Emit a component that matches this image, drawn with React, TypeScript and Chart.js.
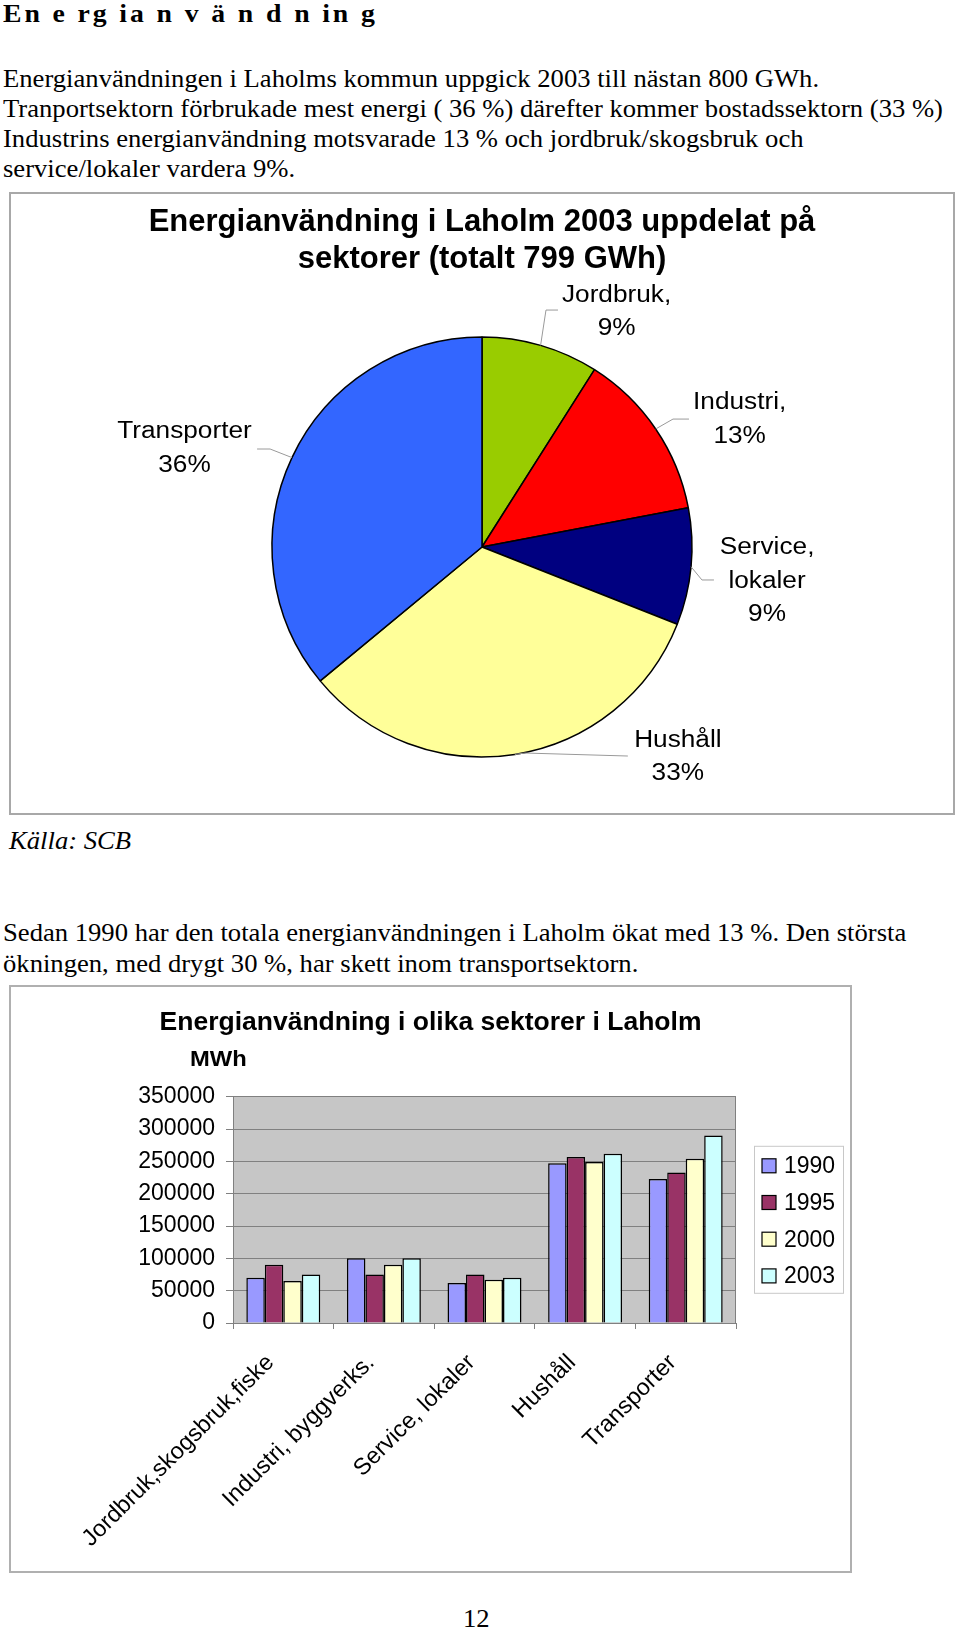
import React, { useEffect, useRef } from "react";
import { Chart, registerables } from "chart.js";

Chart.register(...registerables);

// ---------- Data ----------
const pieCategories = ["Jordbruk", "Industri", "Service, lokaler", "Hushåll", "Transporter"];
const pieLabelLines = [["Jordbruk,"], ["Industri,"], ["Service,", "lokaler"], ["Hushåll"], ["Transporter"]];
const pieShares = [9, 13, 9, 33, 36];
const pieColors = ["#99CC00", "#FF0000", "#000080", "#FFFF99", "#3366FF"];
const pieTitle = ["Energianvändning i Laholm 2003 uppdelat på", "sektorer (totalt 799 GWh)"];

const barTitle = "Energianvändning i olika sektorer i Laholm";
const barUnit = "MWh";
const barCategories = [
  "Jordbruk,skogsbruk,fiske",
  "Industri, byggverks.",
  "Service, lokaler",
  "Hushåll",
  "Transporter",
];
const years = ["1990", "1995", "2000", "2003"];
const values1990 = [70000, 100000, 62000, 247000, 223000];
const values1995 = [90000, 75000, 75000, 257000, 233000];
const values2000 = [65000, 90000, 67000, 249000, 254000];
const values2003 = [75000, 100000, 70000, 262000, 290000];
const yearColors = ["#9999FF", "#993366", "#FFFFCC", "#CCFFFF"];
const yTickValues = [0, 50000, 100000, 150000, 200000, 250000, 300000, 350000];

// ---------- Styles ----------
const SANS = '"Liberation Sans", Arial, sans-serif';
const SERIF = '"Liberation Serif", "Times New Roman", serif';

// leader line / label placement relative to the slice's mid-angle edge point
const pieLabelLayout = [
  { elbow: [5.4, -35.3], end: [17.4, -35.3], text: [76, -50] },
  { elbow: [17.3, -9.9], end: [33.3, -9.9], text: [84, -26] },
  { elbow: [10.9, 13.2], end: [22.9, 13.2], text: [76, -19] },
  { elbow: [10, -1.4], end: [113, 1.6], text: [163, -14] },
  { elbow: [-21.9, -8.6], end: [-34.9, -8.6], text: [-107.5, -25.5] },
];

const pieLabelPlugin = {
  id: "pieLabels",
  afterDraw(chart: any) {
    const ctx = chart.ctx as CanvasRenderingContext2D;
    const meta = chart.getDatasetMeta(0);
    const values = chart.data.datasets[0].data as number[];
    ctx.save();
    meta.data.forEach((arc: any, i: number) => {
      const p = arc.getProps(["x", "y", "startAngle", "endAngle", "outerRadius"], true);
      const a = (p.startAngle + p.endAngle) / 2;
      const ax = p.x + p.outerRadius * Math.cos(a);
      const ay = p.y + p.outerRadius * Math.sin(a);
      const L = pieLabelLayout[i];
      ctx.strokeStyle = "#9a9a9a";
      ctx.lineWidth = 1;
      ctx.beginPath();
      ctx.moveTo(ax, ay);
      ctx.lineTo(ax + L.elbow[0], ay + L.elbow[1]);
      ctx.lineTo(ax + L.end[0], ay + L.end[1]);
      ctx.stroke();
      const lines = [...pieLabelLines[i], values[i] + "%"];
      ctx.fillStyle = "#000";
      ctx.font = `23px ${SANS}`;
      ctx.textAlign = "center";
      ctx.textBaseline = "middle";
      lines.forEach((t, j) => {
        ctx.save();
        ctx.translate(ax + L.text[0], ay + L.text[1] + j * 33.5);
        ctx.scale(1.14, 1);
        ctx.fillText(t, 0, 0);
        ctx.restore();
      });
    });
    ctx.restore();
  },
};

const barDecorPlugin = {
  id: "barDecor",
  beforeDraw(chart: any) {
    const { ctx, chartArea: ca } = chart;
    ctx.save();
    ctx.fillStyle = "#C6C6C6";
    ctx.fillRect(ca.left, ca.top, ca.right - ca.left, ca.bottom - ca.top);
    ctx.restore();
  },
  afterDraw(chart: any) {
    const { ctx, chartArea: ca } = chart;
    ctx.save();
    // plot area right border
    ctx.strokeStyle = "#808080";
    ctx.lineWidth = 1;
    ctx.beginPath();
    ctx.moveTo(ca.right - 0.5, ca.top);
    ctx.lineTo(ca.right - 0.5, ca.bottom);
    ctx.stroke();
    // unit label
    ctx.fillStyle = "#000";
    ctx.font = `bold 22px ${SANS}`;
    ctx.textAlign = "left";
    ctx.textBaseline = "middle";
    ctx.save();
    ctx.translate(ca.left - 43, ca.top - 37);
    ctx.scale(1.08, 1);
    ctx.fillText(barUnit, 0, 0);
    ctx.restore();
    // legend
    const bx = ca.right + 18;
    const by = ca.top + 49;
    const bw = 89;
    const bh = 147;
    ctx.strokeStyle = "#c8c8c8";
    ctx.lineWidth = 1;
    ctx.strokeRect(bx + 0.5, by + 0.5, bw, bh);
    ctx.font = `23px ${SANS}`;
    chart.data.datasets.forEach((ds: any, i: number) => {
      const cy = by + 20 + i * 36.7;
      ctx.fillStyle = ds.backgroundColor;
      ctx.fillRect(bx + 8, cy - 7, 14, 14);
      ctx.strokeStyle = "#000";
      ctx.lineWidth = 1.2;
      ctx.strokeRect(bx + 8, cy - 7, 14, 14);
      ctx.fillStyle = "#000";
      ctx.fillText(ds.label, bx + 30, cy + 1);
    });
    ctx.restore();
  },
};

const lineStyle = (top: number, extra: React.CSSProperties = {}): React.CSSProperties => ({
  position: "absolute",
  left: 3,
  top,
  fontFamily: SERIF,
  fontSize: 24.5,
  lineHeight: "31px",
  whiteSpace: "nowrap",
  transform: "scaleX(1.087)",
  transformOrigin: "0 0",
  color: "#000",
  ...extra,
});

export default function App() {
  const pieRef = useRef<HTMLCanvasElement>(null);
  const barRef = useRef<HTMLCanvasElement>(null);

  useEffect(() => {
    const pie = new Chart(pieRef.current as HTMLCanvasElement, {
      type: "pie",
      data: {
        labels: pieCategories,
        datasets: [
          {
            data: pieShares,
            backgroundColor: pieColors,
            borderColor: "#000",
            borderWidth: 1.5,
          },
        ],
      },
      options: {
        animation: false,
        responsive: false,
        radius: 210,
        layout: { padding: { top: 0, bottom: 17, left: 0, right: 0 } },
        plugins: {
          legend: { display: false },
          tooltip: { enabled: false },
          title: {
            display: true,
            text: pieTitle,
            color: "#000",
            font: { family: SANS, size: 31, weight: "bold", lineHeight: 1.194 },
            padding: { top: 10, bottom: 20 },
          },
        },
      } as any,
      plugins: [pieLabelPlugin],
    });

    const series = [values1990, values1995, values2000, values2003];
    const bar = new Chart(barRef.current as HTMLCanvasElement, {
      type: "bar",
      data: {
        labels: barCategories,
        datasets: years.map((y, i) => ({
          label: y,
          data: series[i],
          backgroundColor: yearColors[i],
          borderColor: "#000",
          borderWidth: 1.5,
          categoryPercentage: 0.735,
          barPercentage: 1,
          yAxisID: "y",
        })),
      },
      options: {
        animation: false,
        responsive: false,
        layout: { padding: 0 },
        plugins: {
          legend: { display: false },
          tooltip: { enabled: false },
          title: {
            display: true,
            text: barTitle,
            color: "#000",
            font: { family: SANS, size: 26.5, weight: "bold", lineHeight: 1.2 },
            padding: { top: 20, bottom: 58 },
          },
        },
        scales: {
          x: {
            grid: { drawOnChartArea: false, drawTicks: true, tickLength: 6, color: "#808080", offset: true },
            border: { color: "#808080" },
            ticks: {
              color: "#000",
              font: { family: SANS, size: 23.5 },
              minRotation: 45,
              maxRotation: 45,
              autoSkip: false,
              padding: 20,
              labelOffset: -13,
            },
            afterFit: (s: any) => {
              s.height = 248;
            },
          },
          y: {
            min: 0,
            max: 350000,
            afterBuildTicks: (s: any) => {
              s.ticks = yTickValues.map((v) => ({ value: v }));
            },
            ticks: {
              color: "#000",
              font: { family: SANS, size: 23 },
              padding: 11,
              callback: (v: any) => String(v),
            },
            grid: { color: "#808080", tickLength: 7, lineWidth: 1 },
            border: { color: "#808080" },
            afterFit: (s: any) => {
              s.width = 222;
            },
          },
          y2: {
            position: "right",
            display: true,
            grid: { display: false },
            ticks: { display: false },
            border: { display: false },
            afterFit: (s: any) => {
              s.width = 114;
            },
          },
        },
      } as any,
      plugins: [barDecorPlugin],
    });

    return () => {
      pie.destroy();
      bar.destroy();
    };
  }, []);

  return (
    <div
      style={{
        position: "absolute",
        left: 0,
        top: 0,
        width: 960,
        height: 1629,
        background: "#fff",
        overflow: "hidden",
      }}
    >
      <div
        style={lineStyle(-1, {
          fontWeight: "bold",
          fontSize: 25,
          letterSpacing: "2.6px",
          lineHeight: "30px",
          transform: "scaleX(1.11)",
        })}
      >
        En e rg ia n v ä n d n in g
      </div>

      <div style={lineStyle(62.5)}>Energianvändningen i Laholms kommun uppgick 2003 till nästan 800 GWh.</div>
      <div style={lineStyle(92.5)}>
        Tranportsektorn förbrukade mest energi ( 36 %) därefter kommer bostadssektorn (33 %)
      </div>
      <div style={lineStyle(122.5)}>Industrins energianvändning motsvarade 13 % och jordbruk/skogsbruk och</div>
      <div style={lineStyle(153)}>service/lokaler vardera 9%.</div>

      <div
        style={{
          position: "absolute",
          left: 9,
          top: 192,
          width: 946,
          height: 623,
          border: "2px solid #a8a8a8",
          boxSizing: "border-box",
        }}
      />
      <canvas
        ref={pieRef}
        width={942}
        height={619}
        style={{ position: "absolute", left: 11, top: 194, width: 942, height: 619 }}
      />

      <div style={lineStyle(825, { left: 9, fontStyle: "italic" })}>Källa: SCB</div>

      <div style={lineStyle(917)}>
        Sedan 1990 har den totala energianvändningen i Laholm ökat med 13 %. Den största
      </div>
      <div style={lineStyle(948)}>ökningen, med drygt 30 %, har skett inom transportsektorn.</div>

      <div
        style={{
          position: "absolute",
          left: 9,
          top: 985,
          width: 843,
          height: 588,
          border: "2px solid #b0b0b0",
          boxSizing: "border-box",
        }}
      />
      <canvas
        ref={barRef}
        width={839}
        height={584}
        style={{ position: "absolute", left: 11, top: 987, width: 839, height: 584 }}
      />

      <div style={lineStyle(1602.5, { left: 463 })}>12</div>
    </div>
  );
}
